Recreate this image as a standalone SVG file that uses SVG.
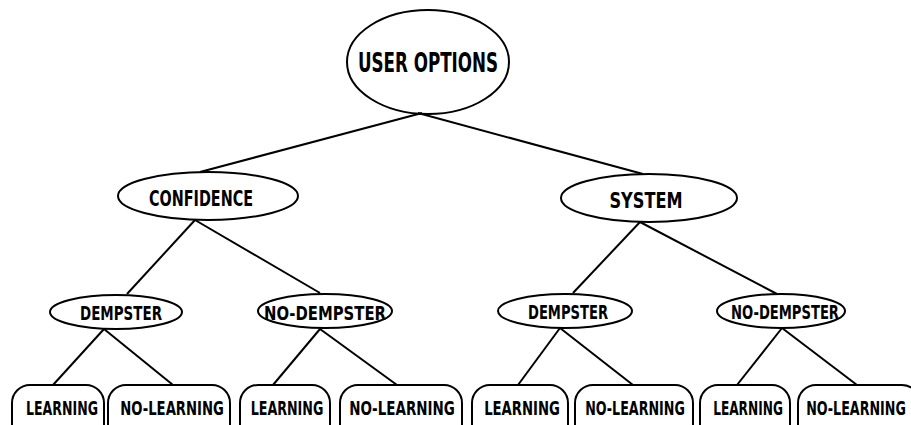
<svg xmlns="http://www.w3.org/2000/svg" width="911" height="425" viewBox="0 0 911 425">
<style>
.s{fill:none;stroke:#000;stroke-width:2}
.t{font-family:"DejaVu Sans Condensed","Liberation Sans",sans-serif;font-weight:bold;fill:#000;text-anchor:middle}
.l{font-size:26px}
.m{font-size:21px}
.b{font-size:20px}
</style>
<rect width="911" height="425" fill="#fff"/>
<g id="connectors" class="s">
<line x1="422" y1="113" x2="200" y2="172"/>
<line x1="418" y1="113" x2="643" y2="174"/>
<line x1="195" y1="220" x2="127" y2="294"/>
<line x1="195" y1="220" x2="320" y2="293"/>
<line x1="640" y1="222" x2="573" y2="293"/>
<line x1="640" y1="222" x2="777" y2="294"/>
<line x1="104" y1="329" x2="53" y2="385"/>
<line x1="104" y1="329" x2="173" y2="385"/>
<line x1="320" y1="329" x2="273" y2="385"/>
<line x1="320" y1="329" x2="397" y2="385"/>
<line x1="560" y1="328" x2="518" y2="385"/>
<line x1="560" y1="328" x2="633" y2="385"/>
<line x1="782" y1="328" x2="737" y2="385"/>
<line x1="782" y1="328" x2="857" y2="385"/>
</g>
<g id="user-options">
<ellipse class="s" cx="428" cy="62" rx="81" ry="52"/>
<text class="t l" x="428" y="72" textLength="140" lengthAdjust="spacingAndGlyphs">USER OPTIONS</text>
</g>
<g id="confidence">
<ellipse class="s" cx="208" cy="196" rx="90" ry="24"/>
<text class="t m" x="201" y="206" textLength="104" lengthAdjust="spacingAndGlyphs">CONFIDENCE</text>
</g>
<g id="system">
<ellipse class="s" cx="649" cy="198" rx="88" ry="24"/>
<text class="t m" x="646" y="208" textLength="73" lengthAdjust="spacingAndGlyphs">SYSTEM</text>
</g>
<g id="dempster-c">
<ellipse class="s" cx="116" cy="312" rx="66" ry="17"/>
<text class="t b" x="121" y="320" textLength="82" lengthAdjust="spacingAndGlyphs">DEMPSTER</text>
</g>
<g id="no-dempster-c">
<ellipse class="s" cx="325" cy="311" rx="67" ry="17"/>
<text class="t b" x="325" y="320" textLength="122" lengthAdjust="spacingAndGlyphs">NO-DEMPSTER</text>
</g>
<g id="dempster-s">
<ellipse class="s" cx="565" cy="311" rx="67" ry="17"/>
<text class="t b" x="568" y="319" textLength="80" lengthAdjust="spacingAndGlyphs">DEMPSTER</text>
</g>
<g id="no-dempster-s">
<ellipse class="s" cx="781" cy="311" rx="64" ry="17"/>
<text class="t b" x="785" y="319" textLength="108" lengthAdjust="spacingAndGlyphs">NO-DEMPSTER</text>
</g>
<g id="learning-1">
<rect class="s" x="12" y="385" width="92" height="60" rx="18"/>
<text class="t b" transform="translate(62,415) scale(0.75,1)" textLength="96" lengthAdjust="spacingAndGlyphs">LEARNING</text>
</g>
<g id="no-learning-1">
<rect class="s" x="108" y="385" width="122" height="60" rx="18"/>
<text class="t b" transform="translate(172,415) scale(0.75,1)" textLength="138" lengthAdjust="spacingAndGlyphs">NO-LEARNING</text>
</g>
<g id="learning-2">
<rect class="s" x="240" y="385" width="90" height="60" rx="18"/>
<text class="t b" transform="translate(287,415) scale(0.75,1)" textLength="97" lengthAdjust="spacingAndGlyphs">LEARNING</text>
</g>
<g id="no-learning-2">
<rect class="s" x="340" y="385" width="122" height="60" rx="18"/>
<text class="t b" transform="translate(402,415) scale(0.75,1)" textLength="141" lengthAdjust="spacingAndGlyphs">NO-LEARNING</text>
</g>
<g id="learning-3">
<rect class="s" x="472" y="385" width="96" height="60" rx="18"/>
<text class="t b" transform="translate(522,415) scale(0.75,1)" textLength="101" lengthAdjust="spacingAndGlyphs">LEARNING</text>
</g>
<g id="no-learning-3">
<rect class="s" x="575" y="385" width="118" height="60" rx="18"/>
<text class="t b" transform="translate(635,415) scale(0.75,1)" textLength="133" lengthAdjust="spacingAndGlyphs">NO-LEARNING</text>
</g>
<g id="learning-4">
<rect class="s" x="700" y="385" width="90" height="60" rx="18"/>
<text class="t b" transform="translate(748,415) scale(0.75,1)" textLength="93" lengthAdjust="spacingAndGlyphs">LEARNING</text>
</g>
<g id="no-learning-4">
<rect class="s" x="798" y="385" width="122" height="60" rx="18"/>
<text class="t b" transform="translate(856,415) scale(0.75,1)" textLength="133" lengthAdjust="spacingAndGlyphs">NO-LEARNING</text>
</g>
</svg>
